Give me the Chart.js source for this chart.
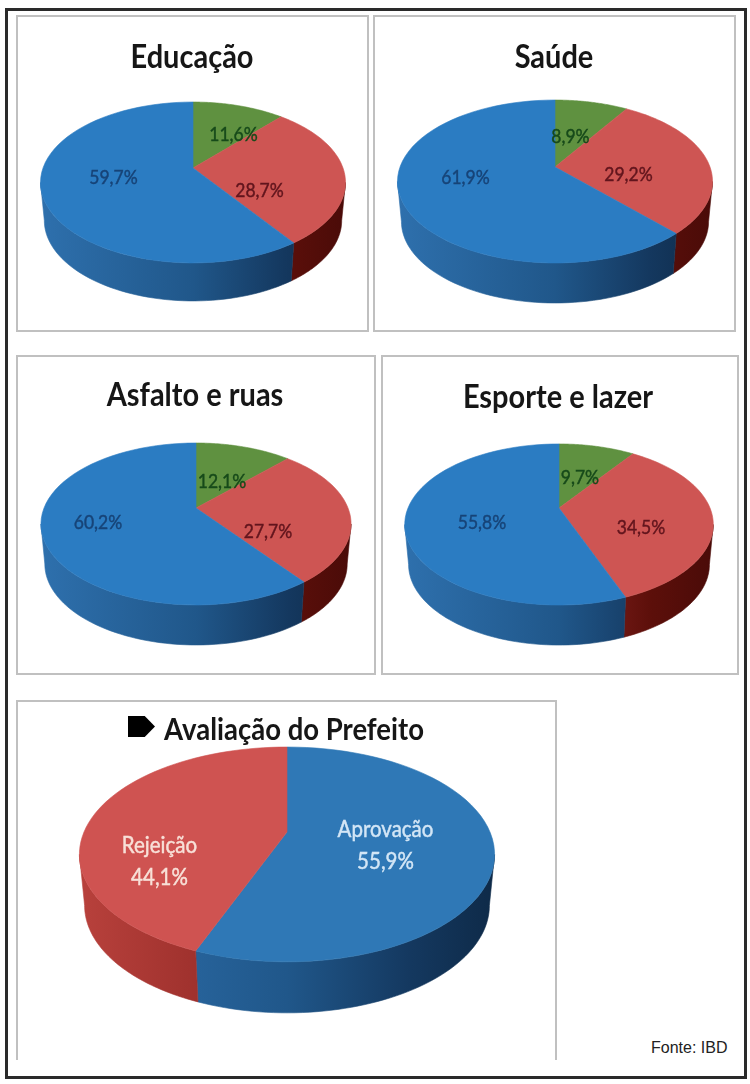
<!DOCTYPE html>
<html lang="pt-BR">
<head>
    <meta charset="UTF-8">
    <title>Avaliação do Prefeito</title>
    <style>
        html, body { margin: 0; padding: 0; background: #fff; }
        #page { position: relative; width: 750px; height: 1084px; overflow: hidden; }
        #frame { position: absolute; left: 5px; top: 8px; width: 742px; height: 1071px; box-sizing: border-box; border: 3px solid #2a2a2a; }
        .panel { position: absolute; box-sizing: border-box; border: 2px solid #c0c0c0; filter: blur(0.4px); }
        .panel.open { border-bottom: none; }
        .title { position: absolute; transform: translate(-50%, -50%) scaleY(1.12); white-space: nowrap; font: bold 29px Lato, sans-serif; color: #161616; filter: blur(0.4px); }
        canvas { position: absolute; filter: blur(0.5px); }
        #arrow { position: absolute; left: 128px; top: 716px; width: 27px; height: 21px; background: #000; clip-path: polygon(0 0, 62% 0, 100% 50%, 62% 100%, 0 100%); }
        #fonte { position: absolute; left: 651px; top: 1039px; font: 16px "Liberation Sans", sans-serif; color: #222; }
    </style>
    <script src="https://cdn.jsdelivr.net/npm/chart.js"></script>
</head>
<body>
    <div id="page">
        <div id="frame"></div>
        <div id="arrow"></div>
        <div id="fonte">Fonte: IBD</div>
    </div>

    <script>
        // values, clockwise from the top
        const educacaoValues = [11.6, 28.7, 59.7];
        const saudeValues = [8.9, 29.2, 61.9];
        const asfaltoValues = [12.1, 27.7, 60.2];
        const esporteValues = [9.7, 34.5, 55.8];
        const prefeitoValues = [55.9, 44.1];
        const prefeitoCategories = ['Aprovação', 'Rejeição'];

        // top face, side wall gradient and label colour of each slice kind
        const green = { top: '#5f9140', side: ['#4a7030', '#2c4a1c'], text: '#174a1a' };
        const red = { top: '#ce5553', side: ['#b8413c', '#8c2522', '#5c0f0a', '#4a0b08'], text: '#62151d' };
        const blue = { top: '#2b7cc2', side: ['#2e70ad', '#20578a', '#14385f', '#0e2a48'], text: '#174478' };
        const blue5 = { top: '#2f78b6', side: ['#2e70ad', '#20578a', '#14385f', '#0e2a48'], text: '#d3e6f6' };
        const red5 = { top: '#cf5351', side: ['#b8413c', '#8c2522', '#5c0f0a', '#4a0b08'], text: '#f8e0d8' };

        // page layout of each chart: cx/cy = pie centre on the page, k = perspective
        const charts = [
            { title: 'Educação', values: educacaoValues, kinds: [green, red, blue],
              box: [16, 15, 353, 317], titleAt: [192, 55], cx: 192.5, cy: 168, r: 150, k: 0.18, squash: 0.519, depth: 38,
              spots: [[233, 135], [259, 191], [113, 178]] },
            { title: 'Saúde', values: saudeValues, kinds: [green, red, blue],
              box: [373, 15, 363, 317], titleAt: [554, 55], cx: 554.5, cy: 167, r: 155, k: 0.178, squash: 0.509, depth: 40,
              spots: [[570, 137], [628, 175], [465, 178]] },
            { title: 'Asfalto e ruas', values: asfaltoValues, kinds: [green, red, blue],
              box: [16, 355, 360, 320], titleAt: [195, 393], cx: 196, cy: 508, r: 152, k: 0.1975, squash: 0.512, depth: 40,
              spots: [[222, 482], [268, 532], [98, 523]] },
            { title: 'Esporte e lazer', values: esporteValues, kinds: [green, red, blue],
              box: [381, 355, 358, 320], titleAt: [558, 395], cx: 559, cy: 508, r: 151, k: 0.205, squash: 0.511, depth: 40,
              spots: [[580, 478], [641, 528], [482, 523]] },
            { title: 'Avaliação do Prefeito', values: prefeitoValues, kinds: [blue5, red5], categories: prefeitoCategories,
              box: [16, 700, 541, 360], open: true, titleAt: [294, 728], titleSize: 27.5, cx: 287, cy: 832, r: 203, k: 0.209, squash: 0.506, depth: 51,
              spots: [[385.5, 845], [159.5, 861]], labelSize: 20.5 }
        ];

        const pad = 12;
        const wallShrink = 0.975;   // the lower rim is a little narrower than the top one

        function fmt(v) {
            return v.toFixed(1).replace('.', ',') + '%';
        }

        // project an angle of the flat pie to the tilted one
        function project(arc, o, a) {
            const u = Math.cos(a), v = Math.sin(a), w = 1 - o.k * v;
            return [arc.x + arc.outerRadius * u / w, arc.y + arc.outerRadius * o.squash * v / w];
        }

        function rimPath(ctx, arc, o, from, to, dy, shrink) {
            const steps = 60;
            for (let i = 0; i <= steps; i++) {
                const p = project(arc, o, from + (to - from) * i / steps);
                ctx.lineTo(arc.x + (p[0] - arc.x) * shrink, p[1] + dy);
            }
        }

        function drawLabel(ctx, text, x, y) {
            ctx.save();
            ctx.translate(x, y);
            ctx.scale(1, 1.15);
            ctx.fillText(text, 0, 0);
            ctx.strokeText(text, 0, 0);
            ctx.restore();
        }

        const tiltedPie = {
            id: 'tiltedPie',
            beforeDatasetDraw(chart, args, o) {
                const ctx = chart.ctx;
                const arcs = chart.getDatasetMeta(0).data;
                const a0 = Math.asin(o.k), a1 = Math.PI - a0;

                // side wall, only the part of the rim that faces us
                arcs.forEach((arc, i) => {
                    const from = Math.max(arc.startAngle, a0), to = Math.min(arc.endAngle, a1);
                    if (to <= from) return;
                    const left = arc.x - o.rx, right = arc.x + o.rx;
                    const grad = ctx.createLinearGradient(left, 0, right, 0);
                    const side = o.kinds[i].side;
                    side.forEach((c, j) => grad.addColorStop(side.length === 4 ? [0, 0.5, 0.8, 1][j] : j, c));
                    ctx.beginPath();
                    rimPath(ctx, arc, o, from, to, 0, 1);
                    rimPath(ctx, arc, o, to, from, o.depth, wallShrink);
                    ctx.closePath();
                    ctx.fillStyle = grad;
                    ctx.strokeStyle = grad;
                    ctx.lineWidth = 0.6;
                    ctx.fill();
                    ctx.stroke();
                });

                // top face
                arcs.forEach((arc, i) => {
                    ctx.beginPath();
                    ctx.moveTo(arc.x, arc.y);
                    rimPath(ctx, arc, o, arc.startAngle, arc.endAngle, 0, 1);
                    ctx.closePath();
                    ctx.fillStyle = o.kinds[i].top;
                    ctx.strokeStyle = o.kinds[i].top;
                    ctx.lineWidth = 0.6;
                    ctx.fill();
                    ctx.stroke();
                });

                // labels
                ctx.textAlign = 'center';
                ctx.textBaseline = 'middle';
                arcs.forEach((arc, i) => {
                    const x = o.spots[i][0] - o.left, y = o.spots[i][1] - o.top;
                    ctx.fillStyle = o.kinds[i].text;
                    ctx.strokeStyle = o.kinds[i].text;
                    ctx.lineWidth = 0.4;
                    ctx.font = o.labelSize + 'px Lato, sans-serif';
                    if (o.categories) {
                        drawLabel(ctx, o.categories[i], x, y - 16);
                        drawLabel(ctx, fmt(o.values[i]), x, y + 16);
                    } else {
                        drawLabel(ctx, fmt(o.values[i]), x, y);
                    }
                });
                return false;
            }
        };

        const page = document.getElementById('page');

        charts.forEach(c => {
            const panel = document.createElement('div');
            panel.className = c.open ? 'panel open' : 'panel';
            panel.style.left = c.box[0] + 'px';
            panel.style.top = c.box[1] + 'px';
            panel.style.width = c.box[2] + 'px';
            panel.style.height = c.box[3] + 'px';
            page.appendChild(panel);
        });

        charts.forEach(c => {
            const side = 2 * (c.r + pad);
            const left = c.cx - side / 2, top = c.cy - side / 2;
            const canvas = document.createElement('canvas');
            canvas.width = side;
            canvas.height = side;
            canvas.style.left = left + 'px';
            canvas.style.top = top + 'px';
            page.appendChild(canvas);

            new Chart(canvas.getContext('2d'), {
                type: 'pie',
                data: {
                    labels: c.categories || c.values.map(fmt),
                    datasets: [{ data: c.values, backgroundColor: c.kinds.map(n => n.top), borderWidth: 0 }]
                },
                options: {
                    responsive: false,
                    animation: false,
                    layout: { padding: pad },
                    plugins: {
                        legend: { display: false },
                        tooltip: { enabled: false },
                        tiltedPie: {
                            k: c.k, squash: c.squash, depth: c.depth,
                            rx: c.r / Math.sqrt(1 - c.k * c.k),
                            kinds: c.kinds, values: c.values, categories: c.categories,
                            spots: c.spots, left: left, top: top,
                            labelSize: c.labelSize || 17.5
                        }
                    }
                },
                plugins: [tiltedPie]
            });

            const title = document.createElement('div');
            title.className = 'title';
            title.textContent = c.title;
            title.style.left = c.titleAt[0] + 'px';
            title.style.top = c.titleAt[1] + 'px';
            if (c.titleSize) title.style.fontSize = c.titleSize + 'px';
            page.appendChild(title);
        });
    </script>
</body>
</html>
